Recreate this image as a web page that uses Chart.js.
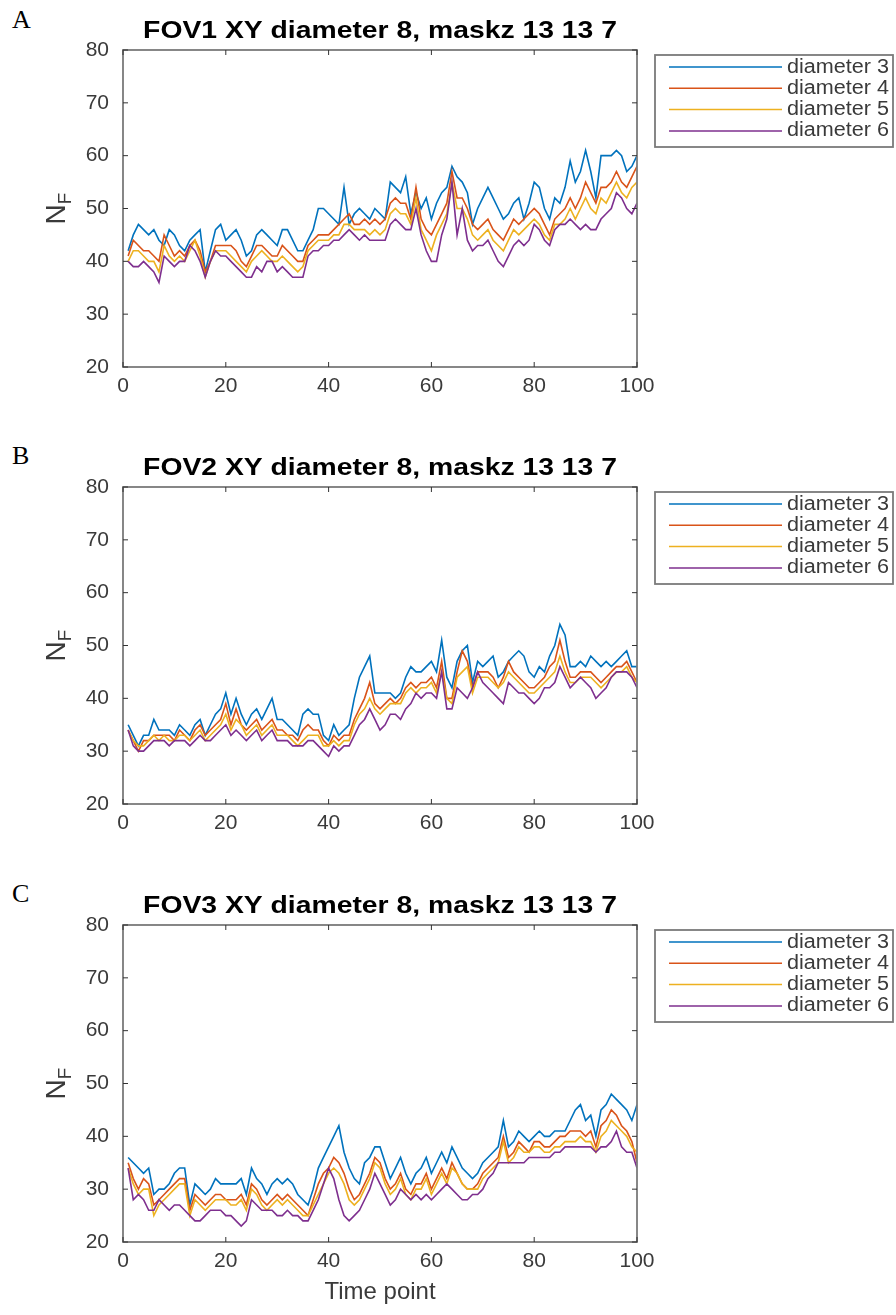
<!DOCTYPE html>
<html>
<head>
<meta charset="utf-8">
<script src="https://cdn.jsdelivr.net/npm/chart.js@4/dist/chart.umd.min.js"></script>
<style>
  body { margin: 0; background: #fff; width: 896px; height: 1315px; position: relative; overflow: hidden; }
  .panel { position: absolute; left: 0; width: 896px; }
  .tag { position: absolute; left: 12px; font-family: "Liberation Serif", serif; font-size: 26px; color: #000; }
</style>
</head>
<body>
<div class="tag" style="top:5px">A</div>
<div class="tag" style="top:441px">B</div>
<div class="tag" style="top:879px">C</div>
<div class="panel" style="top:0px;height:400px"><canvas id="fov1Chart" width="896" height="400"></canvas></div>
<div class="panel" style="top:437px;height:400px"><canvas id="fov2Chart" width="896" height="400"></canvas></div>
<div class="panel" style="top:875px;height:440px"><canvas id="fov3Chart" width="896" height="440"></canvas></div>
<script>
// Series labels and colours (MATLAB default order)
const seriesLabels = ['diameter 3', 'diameter 4', 'diameter 5', 'diameter 6'];
const seriesColors = ['#0072BD', '#D95319', '#EDB120', '#7E2F8E'];
const yTicks = [20, 30, 40, 50, 60, 70, 80];
const xTicks = [0, 20, 40, 60, 80, 100];
const timePoints = Array.from({ length: 100 }, (_, i) => i + 1);

// FOV1
const fov1D3 = [42,45,47,46,45,46,44,43,46,45,43,42,44,45,46,38,42,46,47,44,45,46,44,41,42,45,46,45,44,43,46,46,44,42,42,44,46,50,50,49,48,47,54,47,49,50,49,48,50,49,48,55,54,53,56,49,53,50,52,48,51,53,54,58,56,55,53,47,50,52,54,52,50,48,49,51,52,48,51,55,54,50,48,52,51,54,59,55,57,61,57,52,60,60,60,61,60,57,58,60];
const fov1D4 = [41,44,43,42,42,41,40,45,43,41,42,41,43,44,42,38,40,43,43,43,43,42,40,39,41,43,43,42,41,41,43,42,41,40,40,43,44,45,45,45,46,47,48,49,47,47,48,47,48,47,48,51,52,51,51,48,54,48,46,45,47,49,51,57,52,52,50,47,46,47,48,46,45,44,46,48,47,48,49,50,49,47,45,48,49,50,52,50,52,55,53,51,54,54,55,57,55,54,56,58];
const fov1D5 = [40,42,42,41,40,40,38,43,41,40,41,40,42,44,41,37,40,42,42,42,41,40,39,38,40,41,42,41,40,40,41,40,39,38,39,42,43,44,44,44,45,45,47,47,46,46,46,45,46,45,46,49,50,49,49,47,52,46,44,42,45,47,49,55,50,50,48,45,44,45,46,44,43,42,44,46,45,46,47,48,47,45,44,47,47,48,50,48,50,52,50,49,52,51,53,55,53,52,54,55];
const fov1D6 = [40,39,39,40,39,38,36,41,40,39,40,40,43,42,40,37,40,42,41,41,40,39,38,37,37,39,38,40,40,38,39,38,37,37,37,41,42,42,43,43,44,44,45,46,45,44,45,44,44,44,44,47,48,47,46,46,50,45,42,40,40,45,48,55,45,50,44,42,43,43,44,42,40,39,41,43,44,43,44,47,46,44,43,46,47,47,48,47,46,47,46,46,48,49,50,53,52,50,49,51];

// FOV2
const fov2D3 = [35,33,31,33,33,36,34,34,34,33,35,34,33,35,36,33,35,37,38,41,37,40,37,35,37,38,36,38,40,36,36,35,34,33,37,38,37,37,33,32,35,33,34,35,40,44,46,48,41,41,41,41,40,41,44,46,45,45,46,47,45,51,44,42,47,49,50,43,47,46,47,48,44,45,47,48,49,48,45,44,46,45,48,50,54,52,46,46,47,46,48,47,46,47,46,47,48,49,46,46];
const fov2D4 = [34,32,30,32,32,33,33,33,33,32,34,33,32,34,35,33,34,35,36,39,35,38,35,34,35,36,34,35,36,34,34,33,33,32,34,35,34,34,32,31,33,32,33,33,36,38,40,43,39,38,39,40,39,40,42,43,42,43,43,44,42,47,40,40,45,49,47,42,45,45,45,44,42,44,47,45,44,43,42,42,43,44,46,47,51,47,44,44,45,45,45,44,43,44,45,46,46,47,45,43];
const fov2D5 = [34,32,31,31,32,33,32,33,32,32,33,33,32,33,34,32,33,34,35,37,34,36,35,33,34,35,33,34,35,33,33,33,32,31,32,33,33,33,31,31,32,31,32,32,35,37,38,40,38,37,38,39,39,39,41,42,41,42,42,43,41,45,40,39,44,45,46,41,44,44,44,43,42,43,45,44,43,42,41,41,42,43,44,45,48,45,43,43,44,44,44,43,42,43,44,45,45,46,44,43];
const fov2D6 = [34,31,30,30,31,32,32,32,31,32,32,32,31,32,33,32,32,33,34,35,33,34,33,32,33,34,32,33,34,32,32,32,31,31,31,32,32,31,30,29,31,30,31,31,33,35,36,38,36,34,35,37,37,36,38,39,41,40,41,41,40,45,38,38,42,41,40,42,45,43,42,41,40,39,43,42,41,41,40,39,40,42,42,43,46,44,42,43,44,43,42,40,41,42,44,45,45,45,44,42];

// FOV3
const fov3D3 = [36,35,34,33,34,29,30,30,31,33,34,34,27,31,30,29,30,32,31,31,31,31,32,29,34,32,31,29,31,32,31,32,31,29,28,27,30,34,36,38,40,42,37,34,32,31,35,36,38,38,35,32,34,36,33,31,33,34,36,33,35,37,35,38,36,34,33,32,33,35,36,37,38,43,38,39,41,40,39,40,41,40,40,41,41,41,43,45,46,43,44,40,45,46,48,47,46,45,43,46];
const fov3D4 = [35,32,30,32,31,27,28,29,30,31,32,32,26,29,28,27,28,29,29,28,28,28,29,27,31,30,28,27,28,29,28,29,28,27,26,25,28,31,33,34,36,35,33,30,28,29,31,33,36,35,32,30,31,33,30,29,31,31,33,30,32,34,32,35,33,31,30,30,31,33,34,35,36,40,36,37,39,38,37,39,39,38,38,39,40,40,41,41,41,40,41,38,42,43,45,44,42,41,39,35];
const fov3D5 = [34,31,29,30,30,25,27,28,29,30,31,31,25,28,27,26,27,28,28,28,27,27,28,26,30,29,27,26,27,28,27,28,27,26,25,25,27,29,31,33,34,33,31,28,27,28,30,32,35,34,31,29,30,32,29,28,30,30,32,29,31,33,31,34,33,31,30,30,30,32,33,34,35,39,35,36,38,37,37,38,38,37,37,38,38,39,39,39,40,39,39,37,40,41,43,42,41,40,38,37];
const fov3D6 = [34,28,29,28,26,26,28,27,26,27,27,26,25,24,24,25,26,26,26,25,25,24,23,24,28,27,26,26,26,25,25,26,25,25,24,24,26,28,31,34,32,28,25,24,25,26,28,30,33,31,29,27,28,30,29,28,29,28,29,28,29,30,31,30,29,28,28,29,29,30,32,33,35,35,35,35,35,35,36,36,36,36,36,37,37,38,38,38,38,38,38,37,38,38,39,41,38,37,37,34];

const panelTitles = [
  'FOV1 XY diameter 8, maskz 13 13 7',
  'FOV2 XY diameter 8, maskz 13 13 7',
  'FOV3 XY diameter 8, maskz 13 13 7'
];

const FONT = '"Liberation Sans", Arial, sans-serif';
const AXIS_GRAY = '#7a7a7a';
const TEXT_DARK = '#3a3a3a';

function line(ctx, x1, y1, x2, y2) {
  ctx.beginPath();
  ctx.moveTo(x1, y1);
  ctx.lineTo(x2, y2);
  ctx.stroke();
}

// Draws the MATLAB-like box, inward ticks, title, y label and legend
const matlabAxes = {
  id: 'matlabAxes',
  afterDraw(chart, args, opts) {
    const { ctx, chartArea: a, scales: { x, y } } = chart;
    ctx.save();

    // box and inward ticks
    ctx.strokeStyle = AXIS_GRAY;
    ctx.lineWidth = 1.8;
    ctx.strokeRect(a.left, a.top, a.width, a.height);
    ctx.strokeStyle = '#333';
    ctx.lineWidth = 1;
    x.ticks.forEach(t => {
      const px = x.getPixelForValue(t.value);
      line(ctx, px, a.bottom, px, a.bottom - 5);
      line(ctx, px, a.top, px, a.top + 5);
    });
    y.ticks.forEach(t => {
      const py = y.getPixelForValue(t.value);
      line(ctx, a.left, py, a.left + 5, py);
      line(ctx, a.right, py, a.right - 5, py);
    });

    // title
    ctx.fillStyle = '#000';
    ctx.font = 'bold 24px ' + FONT;
    ctx.textAlign = 'center';
    ctx.textBaseline = 'middle';
    ctx.save();
    ctx.translate((a.left + a.right) / 2, 31);
    ctx.scale(1.18, 1);
    ctx.fillText(opts.title, 0, 0);
    ctx.restore();

    // y label N_F
    ctx.save();
    ctx.translate(55, (a.top + a.bottom) / 2);
    ctx.rotate(-Math.PI / 2);
    ctx.fillStyle = TEXT_DARK;
    ctx.textAlign = 'left';
    ctx.textBaseline = 'alphabetic';
    ctx.font = '28px ' + FONT;
    const nW = ctx.measureText('N').width;
    ctx.font = '19px ' + FONT;
    const fW = ctx.measureText('F').width;
    const x0 = -(nW + fW) / 2;
    ctx.font = '28px ' + FONT;
    ctx.fillText('N', x0, 10);
    ctx.font = '19px ' + FONT;
    ctx.fillText('F', x0 + nW, 16);
    ctx.restore();

    // legend
    const lg = { left: 655, top: 55, right: 893, bottom: 147 };
    ctx.fillStyle = '#fff';
    ctx.fillRect(lg.left, lg.top, lg.right - lg.left, lg.bottom - lg.top);
    ctx.strokeStyle = AXIS_GRAY;
    ctx.lineWidth = 1.8;
    ctx.strokeRect(lg.left, lg.top, lg.right - lg.left, lg.bottom - lg.top);
    ctx.textAlign = 'left';
    ctx.textBaseline = 'middle';
    chart.data.datasets.forEach((ds, i) => {
      const ry = 67 + i * 21.3;
      ctx.strokeStyle = ds.borderColor;
      ctx.lineWidth = 1.5;
      line(ctx, 669, ry, 782, ry);
      ctx.fillStyle = TEXT_DARK;
      ctx.save();
      ctx.translate(787, ry);
      ctx.scale(1.08, 1);
      ctx.font = '20px ' + FONT;
      ctx.fillText(ds.label, 0, 0);
      ctx.restore();
    });

    ctx.restore();
  }
};

function buildDatasets(seriesList) {
  return seriesList.map((vals, i) => ({
    label: seriesLabels[i],
    data: vals.map((v, k) => ({ x: timePoints[k], y: v })),
    borderColor: seriesColors[i],
    backgroundColor: seriesColors[i],
    borderWidth: 1.6,
    pointRadius: 0,
    tension: 0,
    fill: false,
    order: seriesList.length - i
  }));
}

function createPanel(canvasId, title, seriesList, showXTitle) {
  const ctx = document.getElementById(canvasId).getContext('2d');
  return new Chart(ctx, {
    type: 'line',
    data: { datasets: buildDatasets(seriesList) },
    plugins: [matlabAxes],
    options: {
      responsive: false,
      animation: false,
      events: [],
      layout: { padding: { left: 73, right: 259, top: 50, bottom: 0 } },
      scales: {
        x: {
          type: 'linear',
          min: 0,
          max: 100,
          afterBuildTicks(scale) { scale.ticks = xTicks.map(v => ({ value: v })); },
          afterFit(scale) { scale.height = showXTitle ? 73 : 33; },
          border: { display: false },
          grid: { display: false, drawTicks: false },
          ticks: { padding: 7, color: TEXT_DARK, font: { family: FONT, size: 21 }, maxRotation: 0 },
          title: {
            display: showXTitle,
            text: 'Time point',
            color: TEXT_DARK,
            font: { family: FONT, size: 24 },
            padding: { top: 4, bottom: 8 }
          }
        },
        y: {
          min: 20,
          max: 80,
          afterBuildTicks(scale) { scale.ticks = yTicks.map(v => ({ value: v })); },
          afterFit(scale) { scale.width = 50; },
          border: { display: false },
          grid: { display: false, drawTicks: false },
          ticks: { padding: 14, color: TEXT_DARK, font: { family: FONT, size: 21 } }
        }
      },
      plugins: {
        legend: { display: false },
        tooltip: { enabled: false },
        title: { display: false },
        matlabAxes: { title: title }
      }
    }
  });
}

createPanel('fov1Chart', panelTitles[0], [fov1D3, fov1D4, fov1D5, fov1D6], false);
createPanel('fov2Chart', panelTitles[1], [fov2D3, fov2D4, fov2D5, fov2D6], false);
createPanel('fov3Chart', panelTitles[2], [fov3D3, fov3D4, fov3D5, fov3D6], true);
</script>
</body>
</html>
